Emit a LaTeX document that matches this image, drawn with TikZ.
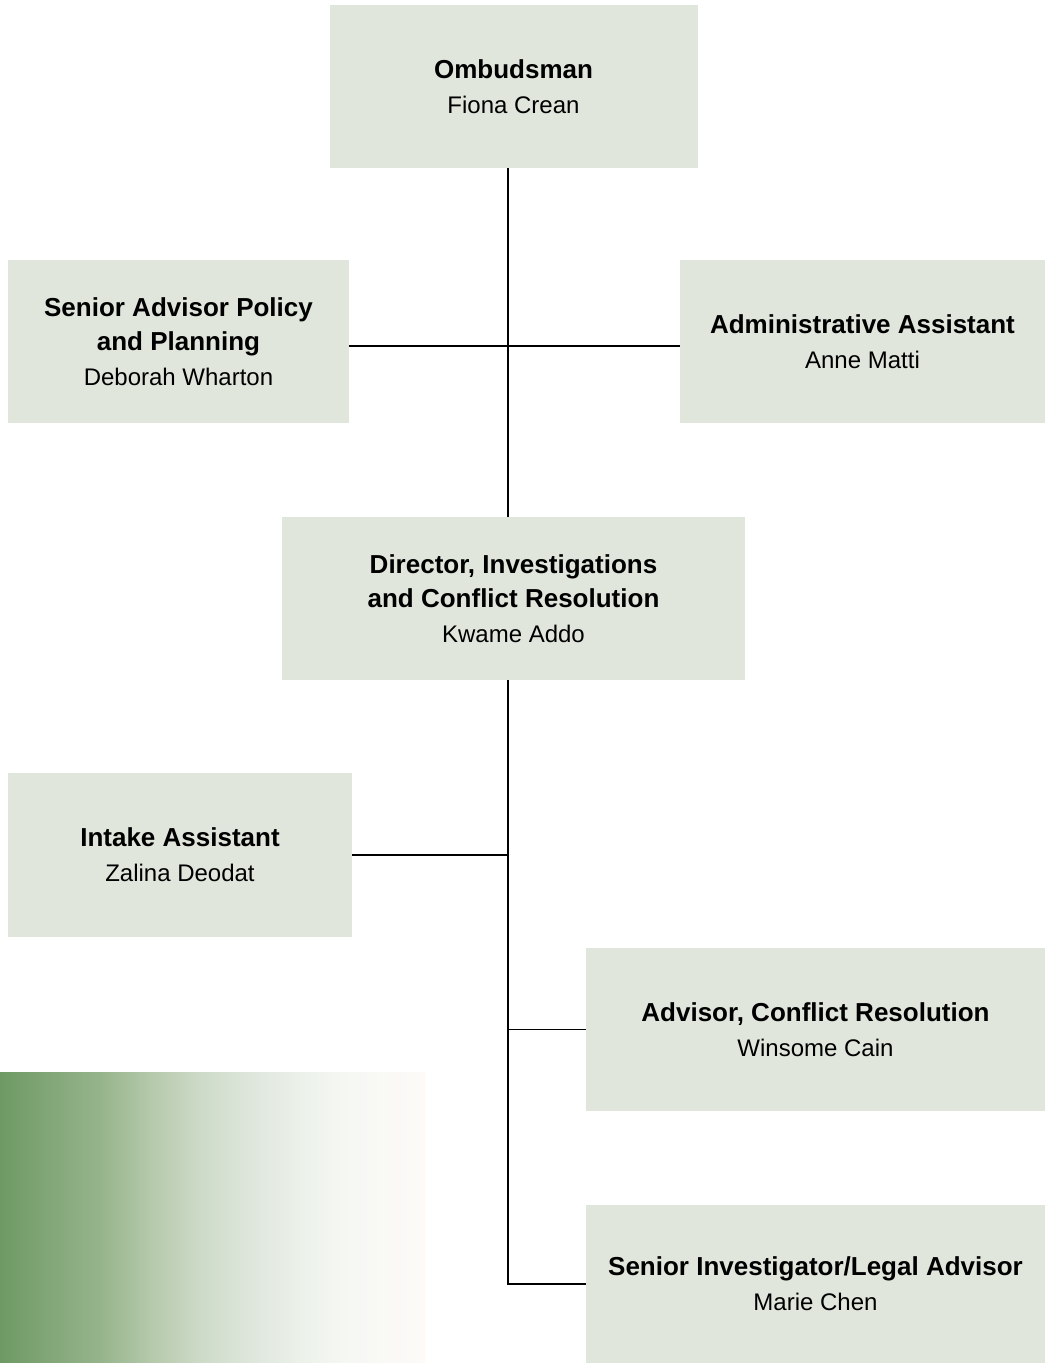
\documentclass[tikz,border=0pt]{standalone}
\usepackage{fontspec}
\setmainfont{Liberation Sans}
\definecolor{boxfill}{RGB}{224,230,220}
\definecolor{gA}{RGB}{110,153,100}
\definecolor{gB}{RGB}{150,180,140}
\definecolor{gC}{RGB}{180,200,170}
\definecolor{gD}{RGB}{205,218,200}
\definecolor{gE}{RGB}{222,230,220}
\definecolor{gF}{RGB}{236,241,234}
\definecolor{gG}{RGB}{246,248,244}
\definecolor{gH}{RGB}{253,250,248}
\pgfdeclarehorizontalshading{fade}{100bp}{color(0bp)=(gA); color(25bp)=(gA);
  color(36.8bp)=(gB); color(42.6bp)=(gC); color(48.5bp)=(gD); color(54.4bp)=(gE);
  color(60.3bp)=(gF); color(66.2bp)=(gG); color(75bp)=(gH); color(100bp)=(gH)}
\newcommand{\rolename}[1]{{\fontsize{19.5}{26}\selectfont\bfseries #1}}
\newcommand{\post}[2]{\rolename{#1}\\#2}
\begin{document}
\begin{tikzpicture}[x=0.75pt,y=-0.75pt]
    \tikzset{box/.style = {fill=boxfill, inner sep=0pt, align=center,
        font=\fontsize{18}{26}\selectfont}}
    \tikzset{link/.style = {line width=0.8pt}}
    \useasboundingbox (0,0) rectangle (1046,1363);
    % fading band at the bottom left
    \shade[shading=fade] (0,1072) rectangle (425,1363);
    \coordinate (spine) at (508,0);
    \coordinate (tier) at (0,346);
    \node[box, minimum width=276pt, minimum height=122pt] (omb) at (513.5,86.5)
        {\post{Ombudsman}{Fiona Crean}};
    \node[box, minimum width=256pt, minimum height=122pt] (sap) at (178.5,341.5)
        {\rolename{Senior Advisor Policy}\\\rolename{and Planning}\\Deborah Wharton};
    \node[box, minimum width=274pt, minimum height=122pt] (aa) at (862.5,341.5)
        {\post{Administrative Assistant}{Anne Matti}};
    \node[box, minimum width=347pt, minimum height=122pt] (dir) at (513.5,598.5)
        {\rolename{Director, Investigations}\\\rolename{and Conflict Resolution}\\Kwame Addo};
    \node[box, minimum width=258pt, minimum height=123pt] (intk) at (180,855)
        {\post{Intake Assistant}{Zalina Deodat}};
    \node[box, minimum width=344pt, minimum height=122pt] (acr) at (815.5,1029.5)
        {\post{Advisor, Conflict Resolution}{Winsome Cain}};
    \node[box, minimum width=344pt, minimum height=119pt] (sil) at (815.5,1284)
        {\post{Senior Investigator/Legal Advisor}{Marie Chen}};
    % connectors
    \draw[link] (omb.south -| spine) -- (dir.north -| spine);
    \draw[link] (sap.east |- tier) -- (aa.west |- tier);
    \draw[link] (dir.south -| spine) |- (sil.west);
    \draw[link] (intk.east) -- (intk.east -| spine);
    \draw[link] (acr.west) -- (acr.west -| spine);
\end{tikzpicture}
\end{document}
